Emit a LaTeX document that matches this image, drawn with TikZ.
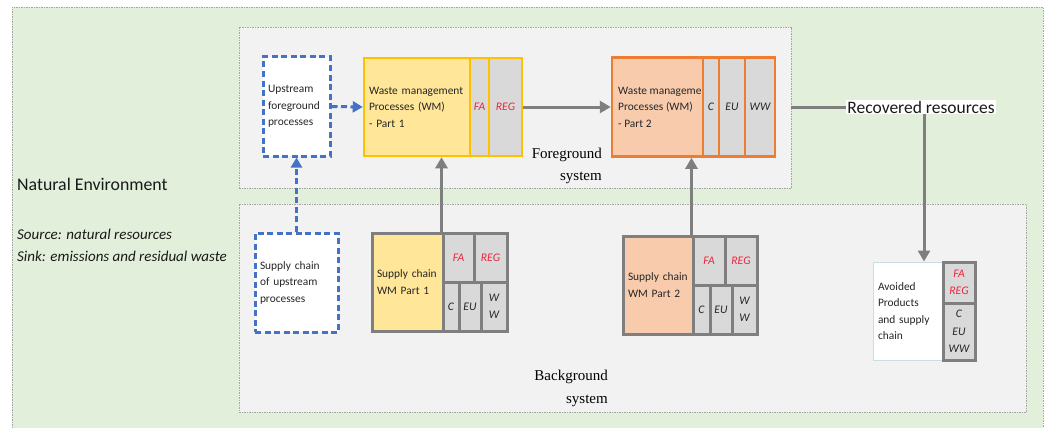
\documentclass[tikz,border=0pt]{standalone}
\usepackage{fontspec}
\setmainfont{Carlito}
\newfontfamily\seriffam{Liberation Serif}
\usetikzlibrary{arrows.meta}
\definecolor{envgreen}{HTML}{E2EFDA}
\definecolor{sysgray}{HTML}{F2F2F2}
\definecolor{bordergray}{HTML}{A6A6A6}
\definecolor{arrowgray}{HTML}{7F7F7F}
\definecolor{upblue}{HTML}{4472C4}
\definecolor{wmyellow}{HTML}{FFE699}
\definecolor{wmyborder}{HTML}{FFC000}
\definecolor{wmorange}{HTML}{F8CBAD}
\definecolor{wmoborder}{HTML}{ED7D31}
\definecolor{cellgray}{HTML}{D9D9D9}
\definecolor{redtxt}{HTML}{F0243C}
\definecolor{avborder}{HTML}{C9DDE8}
\begin{document}
\begin{tikzpicture}[x=1pt,y=-1pt,
  envline/.style={draw=bordergray, line width=0.8pt, dash pattern=on 1.5pt off 1pt},
  sysbox/.style={fill=sysgray, draw=bordergray, line width=0.8pt, dash pattern=on 1.5pt off 1pt, inner sep=0pt},
  txt/.style={font=\fontsize{11.4}{16.5}\selectfont, text=black!85, align=left, inner xsep=5pt, inner ysep=0pt},
  celltxt/.style={font=\fontsize{11.6}{17.5}\selectfont\itshape, text=black!85, align=center, inner sep=0pt},
  bluebox/.style={draw=upblue, line width=3pt, dash pattern=on 6pt off 3.5pt, fill=white},
  wmA/.style={fill=wmyellow, draw=wmyborder, line width=2.5pt},
  cellA/.style={fill=cellgray, draw=wmyborder, line width=2.5pt, celltxt},
  wmB/.style={fill=wmorange, draw=wmoborder, line width=2.5pt, inner sep=0pt},
  cellB/.style={fill=cellgray, draw=wmoborder, line width=2.5pt, celltxt},
  scA/.style={fill=wmyellow, draw=arrowgray, line width=3pt},
  scB/.style={fill=wmorange, draw=arrowgray, line width=3pt},
  cellG/.style={fill=cellgray, draw=arrowgray, line width=3pt, celltxt},
  avbox/.style={fill=white, draw=avborder, line width=1pt},
  garrow/.style={draw=arrowgray, line width=3pt, -{Triangle[length=11pt,width=12pt]}},
  gline/.style={draw=arrowgray, line width=3pt},
  barrow/.style={draw=upblue, line width=3pt, dash pattern=on 6pt off 3.5pt, -{Triangle[length=10pt,width=11pt]}}
]
\useasboundingbox (0,0) rectangle (1046,428);
\fill[envgreen] (12,7) rectangle (1043,428);
\draw[envline] (12,428) -- (12,7) -- (1043,7) -- (1043,428);

% system boxes
\node[sysbox, minimum width=552pt, minimum height=161pt] (fg) at (515,107.5) {};
\node[sysbox, minimum width=787pt, minimum height=208pt] (bg) at (632.5,308) {};

% environment texts
\node[anchor=west, inner sep=0pt, font=\fontsize{17.8}{21}\selectfont, text=black!90] (natenv) at (17,184) {Natural Environment};
\node[anchor=west, inner sep=0pt, align=left, font=\fontsize{15}{22}\selectfont\itshape, text=black!90] (srcsink) at (17,245) {Source: natural resources\\Sink: emissions and residual waste};

% system labels
\node[anchor=east, align=right, inner sep=0pt, font=\seriffam\fontsize{15}{22.5}\selectfont] (fglabel) at (602,166) {Foreground\\system};
\node[anchor=east, align=right, inner sep=0pt, font=\seriffam\fontsize{15}{22.5}\selectfont] (bglabel) at (608,388.5) {Background\\system};

% foreground processes
\node[bluebox, txt, text width=57pt, minimum width=67pt, minimum height=99pt] (up) at (296.5,106.5) {Upstream\\foreground\\processes};

\node[wmA, txt, text width=96pt, minimum width=106pt, minimum height=98pt] (wm1) at (417,107) {Waste management\\Processes (WM)\\- Part 1};
\node[cellA, minimum width=19pt, minimum height=98pt, text=redtxt] (fa1) at (479.5,107) {FA};
\node[cellA, minimum width=33pt, minimum height=98pt, text=redtxt] (reg1) at (505.5,107) {REG};

\node[wmB, minimum width=91pt, minimum height=99pt] (wm2) at (657.5,107) {};
\node[txt, anchor=west] (wm2t) at (613,107) {Waste management\\Processes (WM)\\- Part 2};
\node[cellB, minimum width=16pt, minimum height=99pt] (c2) at (711,107) {C};
\node[cellB, minimum width=26pt, minimum height=99pt] (eu2) at (732,107) {EU};
\node[cellB, minimum width=30pt, minimum height=99pt] (ww2) at (760,107) {WW};

\node[fill=white, inner sep=1pt, font=\fontsize{17.5}{21}\selectfont, text=black!90] (rec) at (921,107) {Recovered resources};

% background processes
\node[bluebox, txt, text width=73pt, minimum width=83pt, minimum height=99pt] (scup) at (296.5,282.5) {Supply chain\\of upstream\\processes};

\node[scA, txt, text width=61pt, minimum width=71pt, minimum height=98pt] (sc1) at (407.5,282) {Supply chain\\WM Part 1};
\node[cellG, minimum width=31pt, minimum height=49pt, text=redtxt] (fa1s) at (458.5,257.5) {FA};
\node[cellG, minimum width=33pt, minimum height=49pt, text=redtxt] (reg1s) at (490.5,257.5) {REG};
\node[cellG, minimum width=16pt, minimum height=49pt] (c1s) at (451,306.5) {C};
\node[cellG, minimum width=22pt, minimum height=49pt] (eu1s) at (470,306.5) {EU};
\node[cellG, minimum width=26pt, minimum height=49pt] (ww1s) at (494,306.5) {W\\W};

\node[scB, txt, text width=60pt, minimum width=70pt, minimum height=98pt] (sc2) at (658,285) {Supply chain\\WM Part 2};
\node[cellG, minimum width=32pt, minimum height=49pt, text=redtxt] (fa2s) at (709,260.5) {FA};
\node[cellG, minimum width=32pt, minimum height=49pt, text=redtxt] (reg2s) at (741,260.5) {REG};
\node[cellG, minimum width=17pt, minimum height=49pt] (c2s) at (701.5,309.5) {C};
\node[cellG, minimum width=22pt, minimum height=49pt] (eu2s) at (721,309.5) {EU};
\node[cellG, minimum width=25pt, minimum height=49pt] (ww2s) at (744.5,309.5) {W\\W};

\node[avbox, txt, text width=60pt, minimum width=70pt, minimum height=98pt] (av) at (908,311) {Avoided\\Products\\and supply\\chain};
\node[cellG, minimum width=32pt, minimum height=41pt, text=redtxt] (avtop) at (959,282.5) {FA\\REG};
\node[cellG, minimum width=32pt, minimum height=57pt] (avbot) at (959,331.5) {C\\EU\\WW};

% connectors
\draw[barrow] (up.east) -- (wm1.west);
\draw[barrow] (scup.north) -- (up.south);
\draw[garrow] (reg1.east) -- (wm2.west);
\draw[garrow] ([xshift=-3pt]sc1.north east) -- ([xshift=-3pt]sc1.north east |- wm1.south);
\draw[garrow] ([xshift=-3pt]sc2.north east) -- ([xshift=-3pt]sc2.north east |- wm2.south);
\draw[gline, shorten <=15pt] (ww2.east) -- (rec.west);
\draw[garrow] ([xshift=3pt]rec.south) -- ([xshift=3pt]rec.south |- av.north);
\end{tikzpicture}
\end{document}
